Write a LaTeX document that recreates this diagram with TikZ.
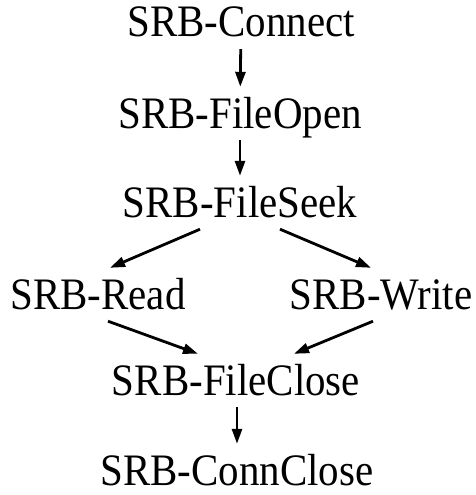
\documentclass[tikz,border=0pt]{standalone}
\usepackage{fontspec}
\setmainfont[FakeStretch=0.91]{Liberation Serif}
\usetikzlibrary{arrows.meta}
\tikzset{
    % API calls
    call/.style = {anchor=base, inner sep=0pt, text height=41pt, text depth=12pt,
        font=\fontsize{45}{50}\selectfont},
    % Edges
    arrow/.style = {line width=2.8pt, -{Triangle[length=15pt, width=10pt]}}
}
\begin{document}
\begin{tikzpicture}[x=1pt, y=-1pt]
    \useasboundingbox (0,0) rectangle (476,495);

    \node (connect)   [call] at (241,37)  {SRB-Connect};
    \node (fileopen)  [call] at (240,128) {SRB-FileOpen};
    \node (fileseek)  [call] at (240,217) {SRB-FileSeek};
    \node (read)      [call] at (98,309)  {SRB-Read};
    \node (write)     [call] at (381,309) {SRB-Write};
    \node (fileclose) [call] at (236,395) {SRB-FileClose};
    \node (connclose) [call] at (237,485) {SRB-ConnClose};

    \draw [arrow] (connect) -- (fileopen);
    \draw [arrow] (fileopen) -- (fileseek);
    \draw [arrow] ([xshift=-40pt]fileseek.south) -- ([xshift=12pt]read.north);
    \draw [arrow] ([xshift=40pt]fileseek.south) -- ([xshift=-10pt]write.north);
    \draw [arrow] ([xshift=10pt]read.south) -- ([xshift=-38pt]fileclose.north);
    \draw [arrow] ([xshift=-8pt]write.south) -- ([xshift=58pt]fileclose.north);
    \draw [arrow] (fileclose.south -| connclose.north) -- (connclose.north);
\end{tikzpicture}
\end{document}
